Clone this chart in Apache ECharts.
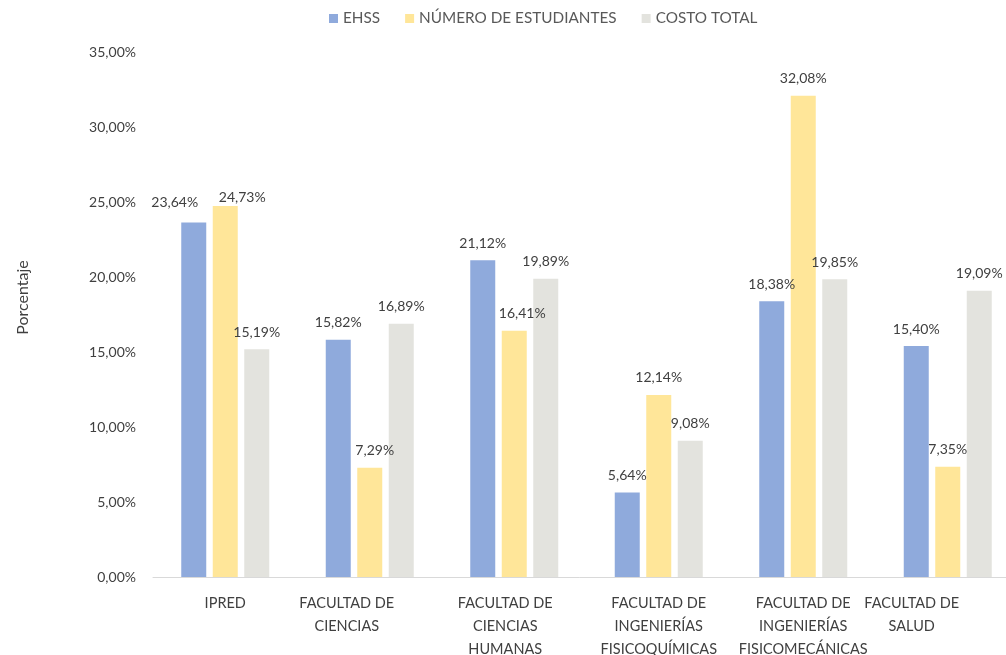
<!DOCTYPE html>
<html>
<head>
<meta charset="utf-8">
<script src="https://cdn.jsdelivr.net/npm/echarts@6/dist/echarts.min.js"></script>
<style>
  html, body { margin: 0; padding: 0; background: #ffffff; }
  #chart { width: 1006px; height: 655px; }
</style>
</head>
<body>
<div id="chart"></div>
<script>
// ---- Data ----
const categories = [
  'IPRED',
  'FACULTAD DE\nCIENCIAS',
  'FACULTAD DE\nCIENCIAS\nHUMANAS',
  'FACULTAD DE\nINGENIERÍAS\nFISICOQUÍMICAS',
  'FACULTAD DE\nINGENIERÍAS\nFISICOMECÁNICAS',
  'FACULTAD DE\nSALUD'
];
const seriesNames = ['EHSS', 'NÚMERO DE ESTUDIANTES', 'COSTO TOTAL'];
const ehss = [23.64, 15.82, 21.12, 5.64, 18.38, 15.40];
const numeroEstudiantes = [24.73, 7.29, 16.41, 12.14, 32.08, 7.35];
const costoTotal = [15.19, 16.89, 19.89, 9.08, 19.85, 19.09];
const yTicks = { min: 0, max: 35, interval: 5 };

// ---- Styling ----
const FONT = 'Lato, "Open Sans", sans-serif';
const colors = ['#8FAADC', '#FFE699', '#E3E3DE'];
// label nudges (style only) to mimic manual placement in the original
const labelNudge = {
  0: { 0: [-19, -3] },
  1: { 0: [17, 8], 1: [5, 0], 2: [8, 0] }
};
// category label horizontal nudges (padding) to mimic original wrapping
const catPad = { 1: [0, 46, 0, 0], 2: [0, 18, 0, 0], 5: [0, 72, 0, 0] };

function fmt(v) {
  return v.toFixed(2).replace('.', ',') + '%';
}

function buildData(values, si) {
  return values.map((v, i) => {
    const item = { value: v };
    const n = labelNudge[si] && labelNudge[si][i];
    if (n) item.label = { offset: n };
    return item;
  });
}

const allSeries = [ehss, numeroEstudiantes, costoTotal].map((vals, si) => ({
  name: seriesNames[si],
  type: 'bar',
  data: buildData(vals, si),
  barWidth: 25,
  barGap: '26%',
  itemStyle: { color: colors[si] },
  label: {
    show: true,
    position: 'top',
    distance: 10,
    color: '#404040',
    fontFamily: FONT,
    fontSize: 14,
    formatter: p => fmt(p.value)
  }
}));

const chart = echarts.init(document.getElementById('chart'), null, { renderer: 'canvas' });
chart.setOption({
  animation: false,
  backgroundColor: '#ffffff',
  textStyle: { fontFamily: FONT },
  legend: {
    top: 6,
    left: 324,
    itemWidth: 9,
    itemHeight: 9,
    itemGap: 25,
    itemStyle: { borderWidth: 0 },
    icon: 'rect',
    textStyle: { color: '#595959', fontSize: 15.3, fontFamily: FONT },
    data: seriesNames
  },
  grid: { left: 153, top: 52, bottom: 78, width: 867, containLabel: false, outerBoundsMode: 'none' },
  xAxis: {
    type: 'category',
    data: categories.map((c, i) => catPad[i] ? { value: c, textStyle: { padding: catPad[i] } } : c),
    axisLine: { show: true, lineStyle: { color: '#D9D9D9', width: 1 } },
    axisTick: { show: false },
    axisLabel: {
      color: '#404040',
      fontSize: 14.5,
      fontFamily: FONT,
      lineHeight: 23,
      margin: 15,
      interval: 0
    }
  },
  yAxis: {
    type: 'value',
    min: yTicks.min,
    max: yTicks.max,
    interval: yTicks.interval,
    name: 'Porcentaje',
    nameLocation: 'middle',
    nameGap: 122,
    nameTextStyle: { color: '#404040', fontSize: 16, fontFamily: FONT, padding: [0, 0, 0, 34] },
    axisLine: { show: false },
    axisTick: { show: false },
    splitLine: { show: false },
    axisLabel: {
      color: '#404040',
      fontSize: 14,
      fontFamily: FONT,
      margin: 17,
      formatter: v => v.toFixed(2).replace('.', ',') + '%'
    }
  },
  series: allSeries
});
</script>
</body>
</html>
